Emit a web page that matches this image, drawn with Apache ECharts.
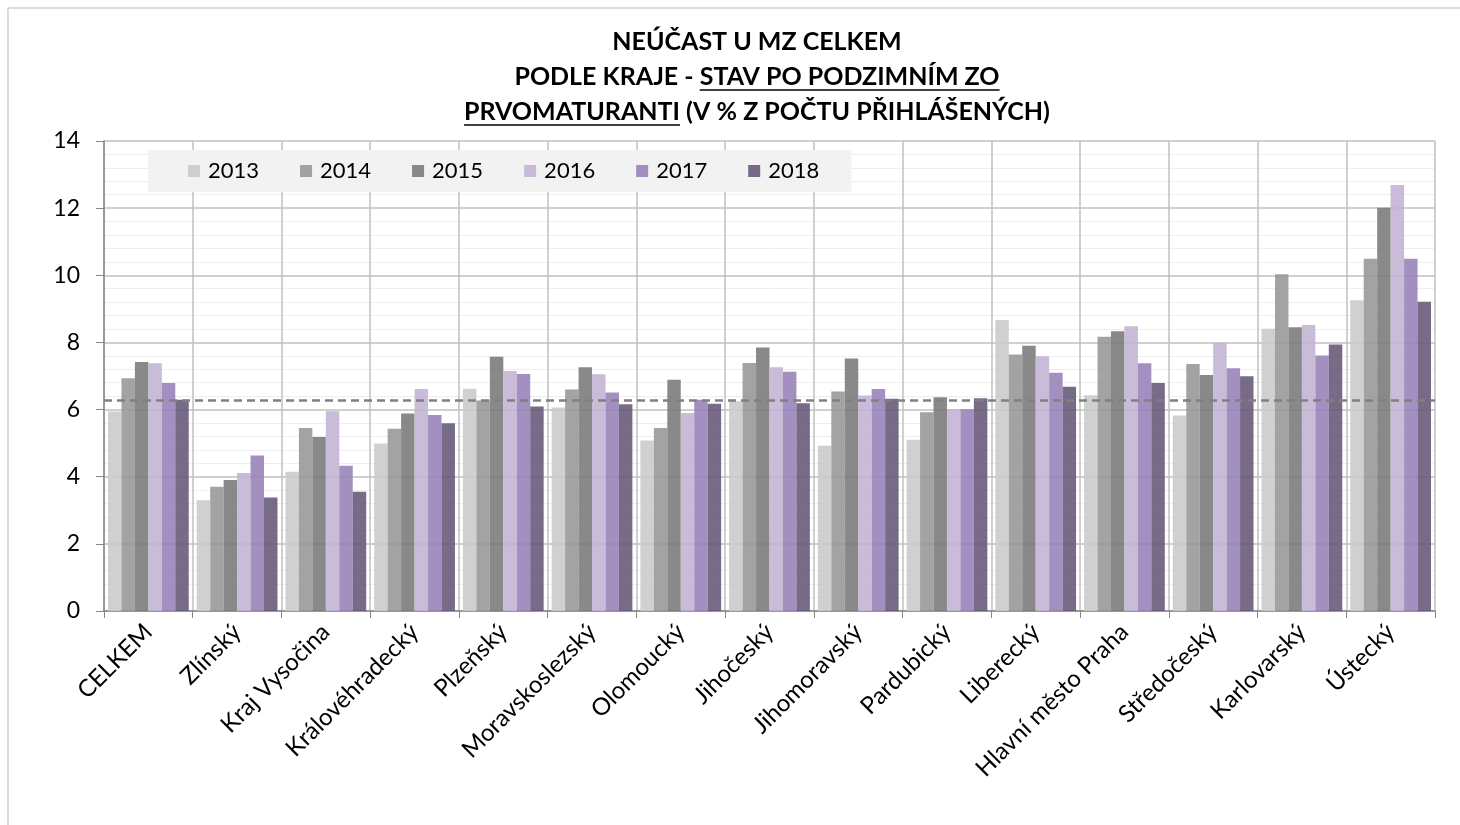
<!DOCTYPE html>
<html>
<head>
<meta charset="utf-8">
<title>Neúčast u MZ celkem</title>
<script src="https://cdn.jsdelivr.net/npm/echarts@6/dist/echarts.min.js"></script>
<style>
    html, body { margin: 0; padding: 0; background: #fff; overflow: hidden; }
    #chart { width: 1460px; height: 825px; }
</style>
</head>
<body>
<div id="chart"></div>
<script>
// kraje (pořadí jako v grafu)
var regions = ['CELKEM', 'Zlínský', 'Kraj Vysočina', 'Královéhradecký', 'Plzeňský', 'Moravskoslezský',
    'Olomoucký', 'Jihočeský', 'Jihomoravský', 'Pardubický', 'Liberecký', 'Hlavní město Praha',
    'Středočeský', 'Karlovarský', 'Ústecký'];
var years = ['2013', '2014', '2015', '2016', '2017', '2018'];

// neúčast v % z počtu přihlášených
var v2013 = [5.94, 3.30, 4.15, 4.99, 6.62, 6.06, 5.08, 6.25, 4.92, 5.10, 8.67, 6.43, 5.82, 8.41, 9.26];
var v2014 = [6.93, 3.70, 5.45, 5.43, 6.27, 6.60, 5.45, 7.39, 6.54, 5.92, 7.64, 8.17, 7.36, 10.03, 10.49];
var v2015 = [7.42, 3.90, 5.18, 5.88, 7.57, 7.26, 6.89, 7.85, 7.52, 6.37, 7.90, 8.33, 7.03, 8.45, 12.01];
var v2016 = [7.38, 4.11, 5.95, 6.61, 7.15, 7.05, 5.90, 7.26, 6.42, 6.02, 7.59, 8.48, 7.99, 8.52, 12.69];
var v2017 = [6.79, 4.63, 4.33, 5.84, 7.06, 6.51, 6.29, 7.13, 6.61, 6.01, 7.10, 7.38, 7.23, 7.61, 10.49];
var v2018 = [6.29, 3.38, 3.55, 5.59, 6.09, 6.16, 6.17, 6.19, 6.32, 6.34, 6.68, 6.79, 6.99, 7.94, 9.21];
var yearValues = [v2013, v2014, v2015, v2016, v2017, v2018];
var avgLine = 6.27; // CELKEM 2018 – přerušovaná čára

var colors = ['#c9c9c9', '#969696', '#797979', '#c0b3d3', '#9681b7', '#645778'];

var FONT = 'Lato';

// titulek - tři řádky, části podtržené
var titleSize = 25;
var titleFont = 'bold ' + titleSize + 'px ' + FONT;
var titleLines = [
    [{t: 'NEÚČAST U MZ CELKEM', u: false}],
    [{t: 'PODLE KRAJE - ', u: false}, {t: 'STAV PO PODZIMNÍM ZO', u: true}],
    [{t: 'PRVOMATURANTI', u: true}, {t: ' (V % Z POČTU PŘIHLÁŠENÝCH)', u: false}]
];
var titleCx = 757, titleY = [42, 77, 112];

var ctx = document.createElement('canvas').getContext('2d');
ctx.font = titleFont;

// rámeček grafu - jen horní a levá hrana jsou v obrázku vidět
var graphics = [
    {type: 'line', silent: true, shape: {x1: 8, y1: 8, x2: 1460, y2: 8}, style: {stroke: '#d0d0d0', lineWidth: 1.5}},
    {type: 'line', silent: true, shape: {x1: 8, y1: 8, x2: 8, y2: 825}, style: {stroke: '#d0d0d0', lineWidth: 1.5}}
];
titleLines.forEach(function (line, i) {
    var total = 0;
    line.forEach(function (s) { s.w = ctx.measureText(s.t).width; total += s.w; });
    var x = titleCx - total / 2;
    line.forEach(function (s) {
        graphics.push({
            type: 'text', x: x, y: titleY[i], silent: true,
            style: {text: s.t, font: titleFont, fill: '#000', textAlign: 'left', textVerticalAlign: 'middle'}
        });
        if (s.u) {
            graphics.push({
                type: 'line', silent: true,
                shape: {x1: x, y1: titleY[i] + 13, x2: x + s.w, y2: titleY[i] + 13},
                style: {stroke: '#000', lineWidth: 1.5}
            });
        }
        x += s.w;
    });
});

var series = years.map(function (y, i) {
    var s = {
        name: y,
        type: 'bar',
        data: yearValues[i],
        barGap: '0%',
        barCategoryGap: '9%',
        itemStyle: {color: colors[i], opacity: 0.88},
        emphasis: {disabled: true}
    };
    if (i === 0) {
        s.markLine = {
            silent: true,
            symbol: 'none',
            label: {show: false},
            lineStyle: {color: '#808080', width: 2.5, type: [8, 5]},
            data: [{yAxis: avgLine}]
        };
    }
    return s;
});

var myChart = echarts.init(document.getElementById('chart'));
var option = {
    animation: false,
    backgroundColor: '#fff',
    color: colors,
    graphic: graphics,
    legend: {
        data: years,
        left: 148,
        top: 150,
        backgroundColor: '#f2f2f2',
        padding: [10, 32, 10, 40],
        itemGap: 41,
        itemWidth: 12,
        itemHeight: 12,
        icon: 'rect',
        textStyle: {fontFamily: FONT, fontSize: 22, color: '#000', padding: [0, 0, 0, 3]}
    },
    grid: {left: 104, right: 25, top: 141, bottom: 214, containLabel: false},
    xAxis: {
        type: 'category',
        data: regions,
        axisLine: {lineStyle: {color: '#868686', width: 1.5}},
        axisTick: {show: true, length: 7, lineStyle: {color: '#868686'}},
        splitLine: {show: true, interval: 0, lineStyle: {color: '#c0c0c0', width: 1.5}},
        axisLabel: {interval: 0, rotate: 45, margin: 17, fontFamily: FONT, fontSize: 24, color: '#000'}
    },
    yAxis: {
        type: 'value',
        min: 0,
        max: 14,
        interval: 2,
        axisLine: {show: true, lineStyle: {color: '#868686', width: 1.5}},
        axisTick: {show: true, length: 8, lineStyle: {color: '#868686'}},
        minorTick: {show: false, splitNumber: 5},
        minorSplitLine: {show: true, lineStyle: {color: '#eeeeee'}},
        splitLine: {show: true, lineStyle: {color: '#c0c0c0', width: 1.5}},
        axisLabel: {margin: 24, fontFamily: FONT, fontSize: 23, color: '#000'}
    },
    series: series
};
myChart.setOption(option);
</script>
</body>
</html>
